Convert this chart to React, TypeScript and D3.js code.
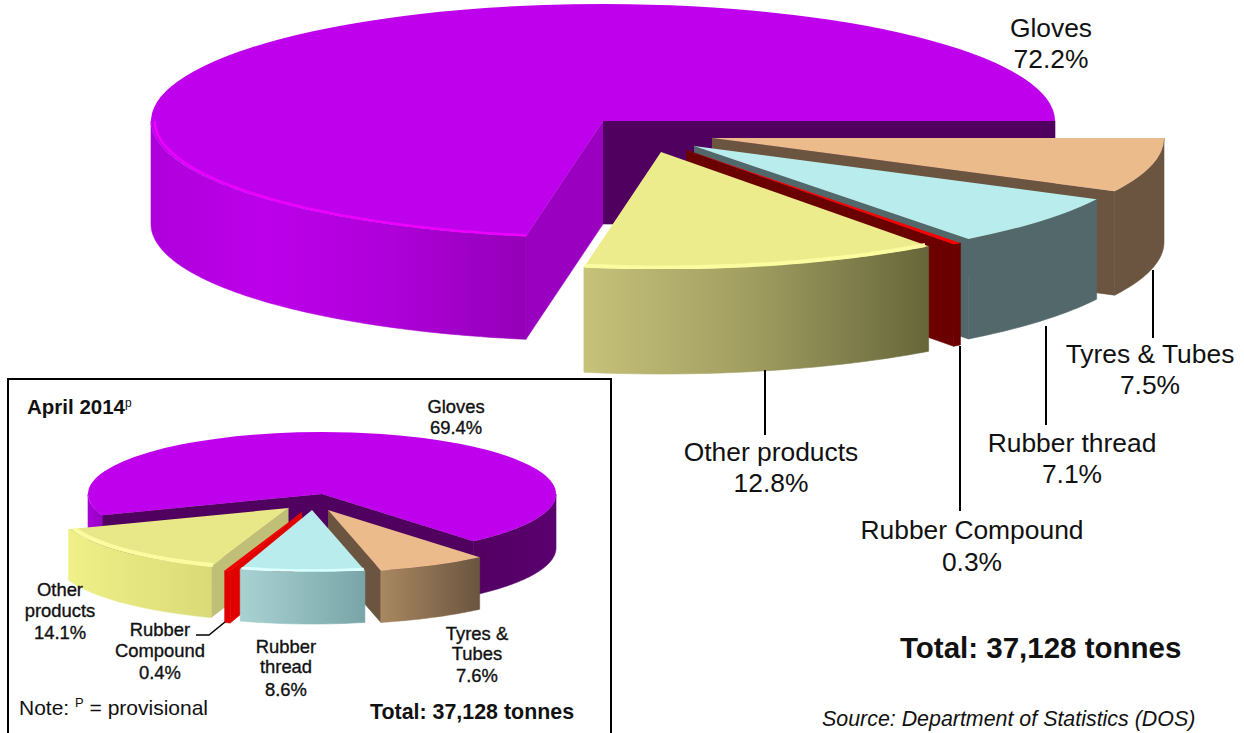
import React from "react";
import * as d3 from "d3";

// Rubber product exports, share of tonnage per category
const productOrder = ["Tyres", "Thread", "Compound", "Other", "Gloves"];
const mainShares = [7.5, 7.1, 0.3, 12.8, 72.2];
const insetShares = [7.6, 8.6, 0.4, 14.1, 69.4];

type Rgb = string;
type SliceLook = {
  top: Rgb;
  rim: [number, Rgb][];
  startFace?: Rgb;
  endFace?: Rgb;
  bevel?: Rgb;
  bevelWidth?: number;
};
type SliceGeom = { x: number; y: number; depth: number };
type PieConfig = {
  id: string;
  rotation: number;
  rx: number;
  ry: number;
  geom: SliceGeom[];
  looks: SliceLook[];
};

const deg = Math.PI / 180;

const mainPie: PieConfig = {
  id: "main",
  rotation: 90 * deg,
  rx: 452,
  ry: 117,
  geom: [
    { x: 712, y: 138, depth: 104 },
    { x: 694, y: 146, depth: 100 },
    { x: 686, y: 150, depth: 102 },
    { x: 661, y: 152, depth: 105 },
    { x: 603, y: 121, depth: 103 },
  ],
  looks: [
    { top: "#ecbb8c", rim: [[0, "#6b5540"], [1, "#6b5540"]], endFace: "#6b5540" },
    { top: "#b9eded", rim: [[0, "#52686b"], [1, "#52686b"]], endFace: "#52686b" },
    { top: "#ff0000", rim: [[0, "#6b0000"], [1, "#6b0000"]], endFace: "#6b0000" },
    {
      top: "#ecec8c",
      rim: [[0, "#c6c27a"], [0.5, "#9f9c60"], [1, "#66663a"]],
      bevel: "#fbfba0",
      bevelWidth: 4,
    },
    {
      top: "#bf00ec",
      rim: [[0, "#ae00da"], [0.3, "#bc00ea"], [0.65, "#ae00d8"], [1, "#9400b8"]],
      startFace: "#9a00bf",
      endFace: "#50005f",
      bevel: "#ee00ff",
      bevelWidth: 2.5,
    },
  ],
};

const insetPie: PieConfig = {
  id: "inset",
  rotation: (90 + 49.6) * deg,
  rx: 234,
  ry: 62,
  geom: [
    { x: 328, y: 510, depth: 52 },
    { x: 312, y: 510, depth: 52 },
    { x: 302, y: 512, depth: 52 },
    { x: 288.5, y: 508, depth: 51 },
    { x: 322, y: 494, depth: 54 },
  ],
  looks: [
    {
      top: "#ecbb8c",
      rim: [[0, "#a88860"], [1, "#6b5540"]],
      endFace: "#6b5540",
    },
    {
      top: "#b9eded",
      rim: [[0, "#a8d2d2"], [1, "#7aa5a8"]],
      bevel: "#dcffff",
      bevelWidth: 3,
    },
    { top: "#f00000", rim: [[0, "#e00000"], [1, "#e00000"]], startFace: "#e00000" },
    {
      top: "#e8e888",
      rim: [[0, "#f0f088"], [1, "#dada78"]],
      startFace: "#bfbf78",
      bevel: "#fbfba0",
      bevelWidth: 4,
    },
    {
      top: "#bf00ec",
      rim: [[0, "#a800d8"], [0.03, "#9800c4"], [0.8, "#52005f"], [1, "#5a0070"]],
      startFace: "#50005f",
      endFace: "#50005f",
    },
  ],
};

// Parts of an arc whose outer wall faces the viewer (the lower half of the ellipse)
function frontSpans(a0: number, a1: number): [number, number][] {
  const spans: [number, number][] = [];
  for (const k of [0, 1]) {
    const lo = Math.max(a0, Math.PI / 2 + k * 2 * Math.PI);
    const hi = Math.min(a1, (3 * Math.PI) / 2 + k * 2 * Math.PI);
    if (hi > lo) spans.push([lo, hi]);
  }
  return spans;
}

function samples([lo, hi]: [number, number]): number[] {
  const n = Math.max(4, Math.ceil((hi - lo) / (1 * deg)));
  return d3.range(n + 1).map((i) => lo + ((hi - lo) * i) / n);
}

function Pie3D({ values, config }: { values: number[]; config: PieConfig }) {
  const { rx, ry, geom, looks, rotation, id } = config;
  const arcs = d3
    .pie<number>()
    .sort(null)
    .value((d) => d)
    .startAngle(rotation)
    .endAngle(rotation + 2 * Math.PI)(values);

  // Back-most slice is painted first, then the rest in stacking order
  const paintOrder = id === "main" ? [4, 0, 1, 2, 3] : [4, 0, 3, 2, 1];
  const topArc = d3.arc<any>();
  const facePath = d3.line();

  return (
    <g>
      <defs>
        <filter id={`${id}-soft`} x="-5%" y="-5%" width="110%" height="110%">
          <feGaussianBlur stdDeviation="0.7" />
        </filter>
      </defs>
      {paintOrder.map((i) => {
        const slice = arcs[i];
        const g = geom[i];
        const look = looks[i];
        const px = (a: number) => g.x + rx * Math.sin(a);
        const py = (a: number) => g.y - ry * Math.cos(a);
        const wall = d3
          .area<number>()
          .x(px)
          .y0(py)
          .y1((a) => py(a) + g.depth);
        const spans = frontSpans(slice.startAngle, slice.endAngle);
        const rimXs = spans.flatMap((s) => samples(s).map(px));
        const gradId = `${id}-rim-${i}`;
        const face = (a: number) =>
          facePath([
            [g.x, g.y],
            [px(a), py(a)],
            [px(a), py(a) + g.depth],
            [g.x, g.y + g.depth],
          ]) as string;
        const bevelLine = d3
          .lineRadial<number>()
          .angle((a) => a)
          .radius(rx - (look.bevelWidth ?? 0) * 1.5);
        return (
          <g key={i}>
            {rimXs.length > 0 && (
              <linearGradient
                id={gradId}
                gradientUnits="userSpaceOnUse"
                x1={d3.min(rimXs)}
                x2={d3.max(rimXs)}
                y1={0}
                y2={0}
              >
                {look.rim.map(([o, c]) => (
                  <stop key={o} offset={o} stopColor={c} />
                ))}
              </linearGradient>
            )}
            {look.endFace && (
              <path d={face(slice.endAngle)} fill={look.endFace} stroke={look.endFace} strokeWidth={0.6} />
            )}
            {look.startFace && (
              <path d={face(slice.startAngle)} fill={look.startFace} stroke={look.startFace} strokeWidth={0.6} />
            )}
            {spans.map((s, k) => (
              <path
                key={k}
                d={wall(samples(s)) as string}
                fill={`url(#${gradId})`}
                stroke={`url(#${gradId})`}
                strokeWidth={0.6}
              />
            ))}
            <path
              transform={`translate(${g.x},${g.y}) scale(1,${ry / rx})`}
              d={
                topArc({
                  innerRadius: 0,
                  outerRadius: rx,
                  startAngle: slice.startAngle,
                  endAngle: slice.endAngle,
                }) as string
              }
              fill={look.top}
            />
            {look.bevel &&
              spans.map((s, k) => (
                <path
                  key={k}
                  transform={`translate(${g.x},${g.y}) scale(1,${ry / rx})`}
                  d={bevelLine(samples(s)) as string}
                  fill="none"
                  stroke={look.bevel}
                  strokeWidth={look.bevelWidth}
                  vectorEffect="non-scaling-stroke"
                  filter={`url(#${id}-soft)`}
                />
              ))}
          </g>
        );
      })}
    </g>
  );
}

const sans = "'Liberation Sans', Arial, sans-serif";
const pct = (v: number) => `${v.toFixed(1)}%`;

function Lines({ x, ys, lines, size, heavy }: { x: number; ys: number[]; lines: string[]; size: number; heavy?: boolean }) {
  return (
    <text
      fontFamily={sans}
      fontSize={size}
      textAnchor="middle"
      fill="#111"
      stroke={heavy ? "#111" : "none"}
      strokeWidth={heavy ? 0.35 : 0}
    >
      {lines.map((t, i) => (
        <tspan key={i} x={x} y={ys[i]}>
          {t}
        </tspan>
      ))}
    </text>
  );
}

export default function App() {
  const leader = d3.line();
  return (
    <svg
      width={1244}
      height={733}
      viewBox="0 0 1244 733"
      style={{ position: "absolute", left: 0, top: 0, background: "#fff" }}
    >
      <Pie3D values={mainShares} config={mainPie} />

      {/* Leader lines for the main pie */}
      <g stroke="#000" strokeWidth={2} fill="none">
        <path d={leader([[1153, 270], [1153, 338]]) as string} />
        <path d={leader([[1046, 326], [1046, 425]]) as string} />
        <path d={leader([[960, 346], [960, 511]]) as string} />
        <path d={leader([[765, 370], [765, 435]]) as string} />
      </g>

      <Lines x={1051} ys={[37, 68]} lines={["Gloves", pct(mainShares[4])]} size={26.4} />
      <Lines x={1150} ys={[363, 394]} lines={["Tyres & Tubes", pct(mainShares[0])]} size={26.4} />
      <Lines x={1072} ys={[452, 483]} lines={["Rubber thread", pct(mainShares[1])]} size={26.4} />
      <Lines x={771} ys={[461, 492]} lines={["Other products", pct(mainShares[3])]} size={26.4} />
      <Lines x={972} ys={[539, 571]} lines={["Rubber Compound", pct(mainShares[2])]} size={26.4} />

      <text x={900} y={658} fontFamily={sans} fontSize={29.5} fontWeight="bold" fill="#111">
        Total: 37,128 tonnes
      </text>
      <text x={822} y={726} fontFamily={sans} fontSize={21.4} fontStyle="italic" fill="#111">
        Source: Department of Statistics (DOS)
      </text>

      {/* Inset: previous period */}
      <rect x={8} y={379} width={603} height={360} fill="#fff" stroke="#000" strokeWidth={2} />
      <Pie3D values={insetShares} config={insetPie} />

      <path d={leader([[196, 635], [209, 635], [225, 622]]) as string} stroke="#000" strokeWidth={1.5} fill="none" />

      <text x={27} y={414} fontFamily={sans} fontSize={20.5} fontWeight="bold" fill="#111">
        April 2014
        <tspan fontSize={12} fontWeight="normal" dy={-7}>p</tspan>
      </text>
      <Lines heavy x={456} ys={[413, 434]} lines={["Gloves", pct(insetShares[4])]} size={18.4} />
      <Lines heavy x={60} ys={[596, 617, 639]} lines={["Other", "products", pct(insetShares[3])]} size={18.4} />
      <Lines heavy x={160} ys={[636, 657, 679]} lines={["Rubber", "Compound", pct(insetShares[2])]} size={18.4} />
      <Lines heavy x={286} ys={[653, 673, 696]} lines={["Rubber", "thread", pct(insetShares[1])]} size={18.4} />
      <Lines heavy x={477} ys={[640, 660, 682]} lines={["Tyres &", "Tubes", pct(insetShares[0])]} size={18.4} />

      <text x={19} y={715} fontFamily={sans} fontSize={21} fill="#111">
        Note: <tspan fontSize={13} dy={-8}>P</tspan>
        <tspan dy={8}> = provisional</tspan>
      </text>
      <text x={370} y={719} fontFamily={sans} fontSize={21.4} fontWeight="bold" fill="#111">
        Total: 37,128 tonnes
      </text>
    </svg>
  );
}
